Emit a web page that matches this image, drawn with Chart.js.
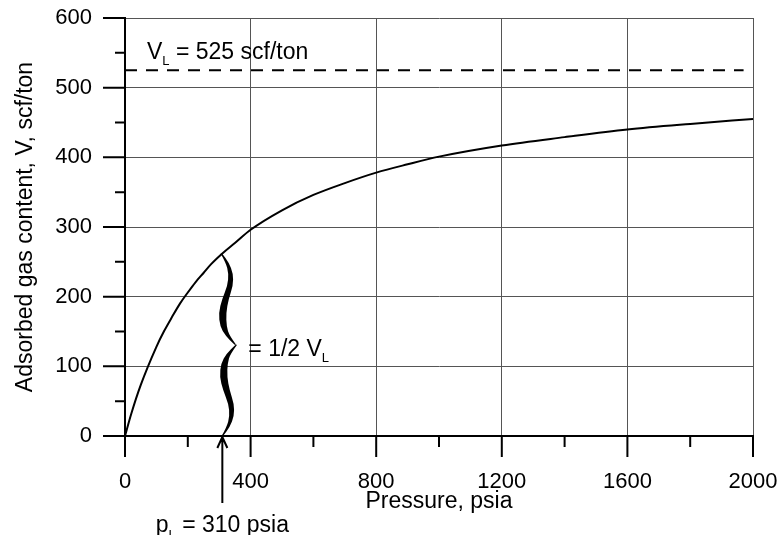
<!DOCTYPE html>
<html>
<head>
<meta charset="utf-8">
<script src="https://cdn.jsdelivr.net/npm/chart.js@4/dist/chart.umd.min.js"></script>
<style>
  body { margin: 0; background: #fff; }
  canvas { display: block; }
</style>
</head>
<body>
<canvas id="chart" width="781" height="535"></canvas>
<script>
// valores
const pressure = [0, 20, 50, 100, 125, 150, 175, 200, 225, 250, 275, 310, 350, 400, 500, 600, 700, 800, 900, 1000, 1200, 1400, 1600, 1800, 2000];
const gasContent = [0, 32, 73, 128, 151, 171, 190, 206, 221, 234, 247, 262, 277, 296, 324, 346, 363, 378, 390, 401, 417, 429, 440, 448, 455];

const langmuirVolume = 525;
const langmuirPressure = 310;
const halfVolumeAtPL = 262;
const vlLineEnds = [0, 1970];

const xTickValues = [0, 400, 800, 1200, 1600, 2000];
const xMinorTicks = [200, 600, 1000, 1400, 1800];
const yTickValues = [0, 100, 200, 300, 400, 500, 600];
const yMinorTicks = [50, 150, 250, 350, 450, 550];

const FONT = "'Liberation Sans', Arial, sans-serif";

// forma de la llave: [fracción, desplazamiento x, grosor]
const braceShape = [
    [0, 0, 1.5], [0.1, 6, 3], [0.22, 9.5, 4.5], [0.35, 9, 5.5], [0.5, 4, 6.5],
    [0.65, 1, 7.5], [0.8, 2, 6.5], [0.9, 6, 4], [1, 14, 1.5]
];

function smoothPath(ctx, pts, first) {
    if (first) ctx.moveTo(pts[0][0], pts[0][1]);
    else ctx.lineTo(pts[0][0], pts[0][1]);
    for (let i = 1; i < pts.length - 1; i++) {
        const mx = (pts[i][0] + pts[i + 1][0]) / 2;
        const my = (pts[i][1] + pts[i + 1][1]) / 2;
        ctx.quadraticCurveTo(pts[i][0], pts[i][1], mx, my);
    }
    const last = pts[pts.length - 1];
    ctx.lineTo(last[0], last[1]);
}

function drawHalfBrace(ctx, x0, yEnd, yTip) {
    const left = braceShape.map(([f, dx, w]) => [x0 + dx - w / 2, yEnd + (yTip - yEnd) * f]);
    const right = braceShape.map(([f, dx, w]) => [x0 + dx + w / 2, yEnd + (yTip - yEnd) * f]).reverse();
    ctx.beginPath();
    smoothPath(ctx, left, true);
    smoothPath(ctx, right, false);
    ctx.closePath();
    ctx.fill();
}

// texto con subíndice
function drawRich(ctx, parts, x, y, align) {
    const big = "23px " + FONT, small = "13px " + FONT;
    let total = 0;
    parts.forEach(p => {
        ctx.font = p.sub ? small : big;
        total += ctx.measureText(p.t).width;
    });
    let cx = align === "center" ? x - total / 2 : x;
    ctx.textAlign = "left";
    ctx.textBaseline = "middle";
    parts.forEach(p => {
        ctx.font = p.sub ? small : big;
        ctx.fillText(p.t, cx, p.sub ? y + 9 : y);
        cx += ctx.measureText(p.t).width;
    });
}

const annotations = {
    id: "annotations",
    afterDraw(chart) {
        const { ctx, chartArea: { left, bottom }, scales: { x, y } } = chart;
        ctx.save();
        ctx.strokeStyle = "#000";
        ctx.fillStyle = "#000";
        ctx.lineWidth = 2;

        // marcas de los ejes
        ctx.beginPath();
        yTickValues.forEach(v => { const p = y.getPixelForValue(v); ctx.moveTo(left - 22, p); ctx.lineTo(left, p); });
        yMinorTicks.forEach(v => { const p = y.getPixelForValue(v); ctx.moveTo(left - 10, p); ctx.lineTo(left, p); });
        xTickValues.forEach(v => { const p = x.getPixelForValue(v); ctx.moveTo(p, bottom); ctx.lineTo(p, bottom + 21); });
        xMinorTicks.forEach(v => { const p = x.getPixelForValue(v); ctx.moveTo(p, bottom); ctx.lineTo(p, bottom + 11); });
        ctx.stroke();

        // llave
        const x0 = x.getPixelForValue(langmuirPressure);
        const yTop = y.getPixelForValue(halfVolumeAtPL);
        const yBot = y.getPixelForValue(0);
        const yMid = y.getPixelForValue(halfVolumeAtPL / 2);
        drawHalfBrace(ctx, x0 - 1, yTop, yMid);
        drawHalfBrace(ctx, x0, yBot, yMid);

        // flecha p_L
        ctx.beginPath();
        ctx.moveTo(x0, yBot + 2);
        ctx.lineTo(x0, yBot + 67);
        ctx.moveTo(x0 - 5, yBot + 12);
        ctx.lineTo(x0, yBot + 1);
        ctx.lineTo(x0 + 5, yBot + 12);
        ctx.stroke();

        // textos
        drawRich(ctx, [{ t: "V" }, { t: "L", sub: true }, { t: " = 525 scf/ton" }],
            x.getPixelForValue(0) + 22, y.getPixelForValue(langmuirVolume) - 18, "left");
        drawRich(ctx, [{ t: "= 1/2 V" }, { t: "L", sub: true }],
            x0 + 26, yMid + 5, "left");
        drawRich(ctx, [{ t: "p" }, { t: "L", sub: true }, { t: " = 310 psia" }],
            x0, yBot + 90, "center");

        ctx.restore();
    }
};

new Chart(document.getElementById("chart"), {
    type: "line",
    data: {
        datasets: [
            {
                label: "V",
                data: pressure.map((p, i) => ({ x: p, y: gasContent[i] })),
                borderColor: "#000",
                borderWidth: 2,
                pointRadius: 0,
                cubicInterpolationMode: "monotone"
            },
            {
                label: "VL",
                data: vlLineEnds.map(p => ({ x: p, y: langmuirVolume })),
                borderColor: "#000",
                borderWidth: 2,
                borderDash: [12, 9],
                pointRadius: 0
            }
        ]
    },
    options: {
        responsive: false,
        animation: false,
        devicePixelRatio: 1,
        layout: { padding: { top: 18, right: 28, left: 0, bottom: 0 } },
        plugins: {
            legend: { display: false },
            tooltip: { enabled: false }
        },
        scales: {
            x: {
                type: "linear",
                min: 0,
                max: 2000,
                afterBuildTicks: s => { s.ticks = xTickValues.map(v => ({ value: v })); },
                afterFit: s => { s.height = 99; s.paddingLeft = 0; s.paddingRight = 0; },
                grid: { color: "#555", lineWidth: 1, drawTicks: false },
                border: { color: "#000", width: 2 },
                ticks: { color: "#000", padding: 33, font: { family: FONT, size: 22 }, maxRotation: 0, callback: v => String(v) },
                title: { display: true, text: "Pressure, psia", color: "#000", font: { family: FONT, size: 23 }, padding: { top: 0, bottom: 20 } }
            },
            y: {
                type: "linear",
                min: 0,
                max: 600,
                afterBuildTicks: s => { s.ticks = yTickValues.map(v => ({ value: v })); },
                afterFit: s => { s.width = 125; s.paddingTop = 0; s.paddingBottom = 0; },
                grid: { color: "#555", lineWidth: 1, drawTicks: false },
                border: { color: "#000", width: 2 },
                ticks: { color: "#000", padding: 33, font: { family: FONT, size: 22 }, callback: v => String(v) },
                title: { display: true, text: "Adsorbed gas content, V, scf/ton", color: "#000", font: { family: FONT, size: 23 }, padding: { top: 12, bottom: 0 } }
            }
        }
    },
    plugins: [annotations]
});
</script>
</body>
</html>
